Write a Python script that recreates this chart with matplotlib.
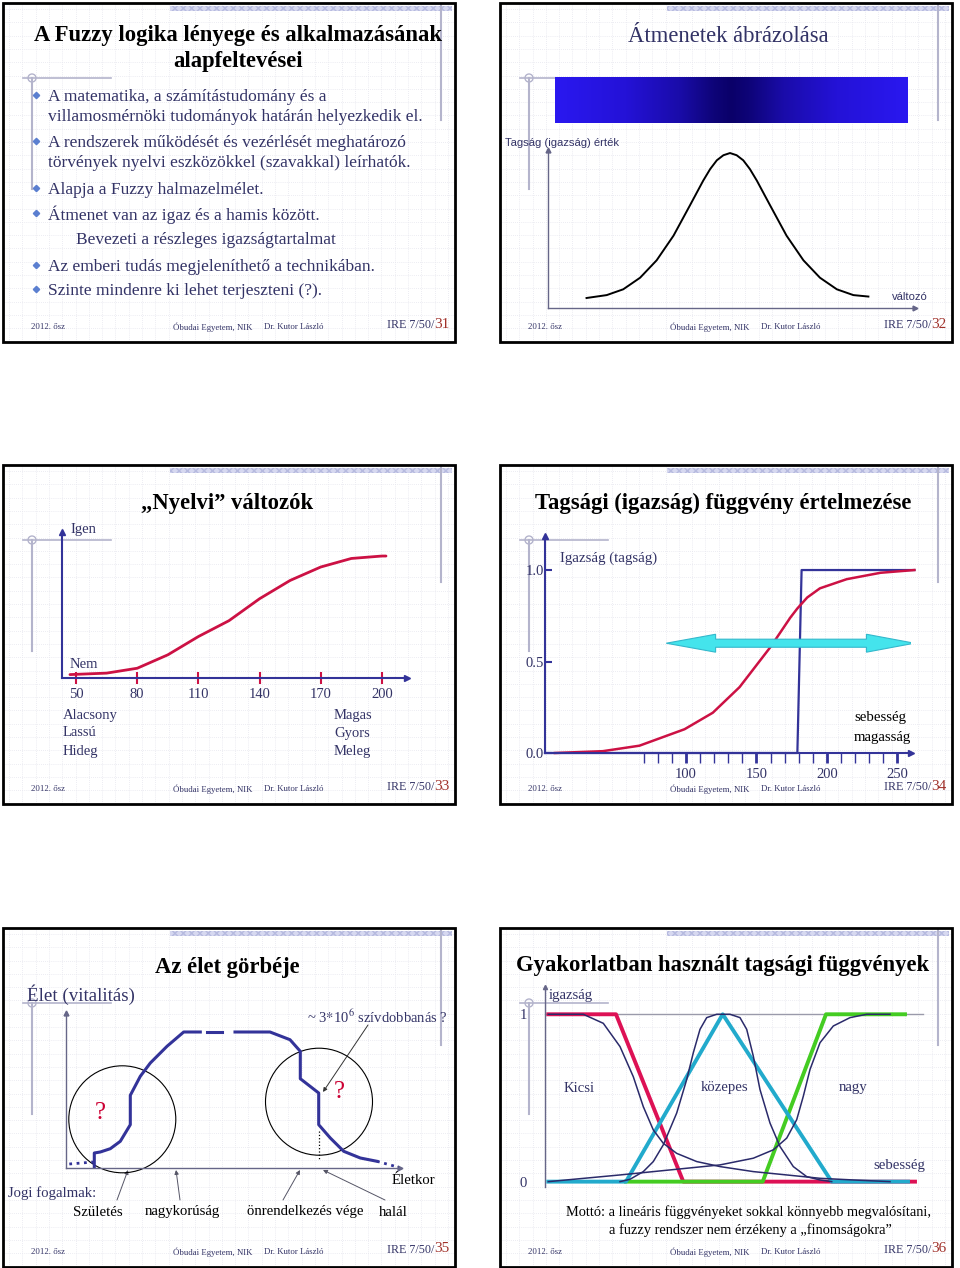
import numpy as np
import matplotlib.pyplot as plt
import matplotlib.patches as mpatches

plt.rcParams['font.family'] = ['Liberation Serif', 'DejaVu Serif']
plt.rcParams['mathtext.fontset'] = 'stix'

# ---------------- values ----------------
bullet_lines = [
    (97, True, 'A matematika, a számítástudomány és a'),
    (117, False, 'villamosmérnöki tudományok határán helyezkedik el.'),
    (143, True, 'A rendszerek működését és vezérlését meghatározó'),
    (163, False, 'törvények nyelvi eszközökkel (szavakkal) leírhatók.'),
    (190, True, 'Alapja a Fuzzy halmazelmélet.'),
    (215, True, 'Átmenet van az igaz és a hamis között.'),
    (267, True, 'Az emberi tudás megjeleníthető a technikában.'),
    (291, True, 'Szinte mindenre ki lehet terjeszteni (?).'),
]

# slide 32: bell shaped membership
bell_x = [10.5, 16.0, 20.5, 25.1, 29.6, 34.2, 38.7, 42.3, 44.2, 46.0, 47.8, 49.6,
          51.4, 53.2, 55.0, 56.9, 60.5, 65.0, 69.6, 74.1, 78.7, 83.2, 87.3]
bell_y = [0.0, 0.02, 0.06, 0.14, 0.26, 0.43, 0.64, 0.81, 0.89, 0.95, 0.985, 1.0,
          0.985, 0.95, 0.89, 0.81, 0.64, 0.43, 0.26, 0.14, 0.06, 0.02, 0.01]

# slide 33: linguistic variable
ling_x = [47, 50, 65, 80, 95, 110, 125, 140, 155, 170, 185, 200, 202]
ling_y = [0.028, 0.03, 0.04, 0.08, 0.19, 0.34, 0.47, 0.65, 0.80, 0.91, 0.98, 1.0, 1.0]
ling_ticks = [50, 80, 110, 140, 170, 200]
low_words = ['Alacsony', 'Lassú', 'Hideg']
high_words = ['Magas', 'Gyors', 'Meleg']

# slide 34: fuzzy vs crisp membership
fuzzy_x = [7, 41, 67, 99, 119, 138, 148, 160, 167, 174, 179, 186, 195, 214, 238, 262]
fuzzy_y = [0, 0.01, 0.04, 0.13, 0.22, 0.36, 0.46, 0.58, 0.66, 0.74, 0.79, 0.85, 0.90,
           0.95, 0.985, 1.0]
crisp_x = [0, 179, 182, 262]
crisp_y = [0, 0, 1, 1]
arrow_x = [86, 121, 121, 228, 228, 262, 228, 228, 121, 121]
arrow_y = [0.6, 0.649, 0.622, 0.622, 0.649, 0.6, 0.551, 0.578, 0.578, 0.551]

# slide 35: life curve
life_in_x = [3.3, 27.7]
life_in_y = [4, 6]
life_up_x = [28.3, 28.3, 34.3, 44.3, 54.3, 64.3, 64.3, 74.3, 84.3, 101, 117.7, 134.3]
life_up_y = [1, 15, 16, 19.3, 26.7, 43.3, 72.7, 91.7, 105, 121.7, 136, 136]
life_gap_x = [141, 156]
life_gap_y = [136, 136]
life_down_x = [169, 204, 224, 234.3, 234.3, 252.7, 252.7, 264.3, 277.7, 294.3, 311]
life_down_y = [136, 136, 128.3, 116.7, 89.3, 75, 43.3, 30, 16.7, 10, 6.7]
life_out_x = [311, 332.7]
life_out_y = [6.7, 0.7]
circle_x = [56.3, 253]
circle_y = [48.7, 66.3]
legal_terms = [('Születés', 98, 117, 128), ('nagykorúság', 182, 180, 176),
               ('önrendelkezés vége', 305, 283, 300), ('halál', 393, 385, 323)]

# slide 36: membership functions used in practice
small_x = [3.3, 38.3, 58.3, 75, 88.3, 98.3, 108.3, 118.3, 131.7, 151.7, 175, 208.3,
           241.7, 275, 308.3, 345]
small_y = [1.0, 1.0, 0.946, 0.807, 0.627, 0.448, 0.309, 0.229, 0.169, 0.120, 0.090,
           0.060, 0.040, 0.020, 0.010, 0.0]
medium_x = [75, 85, 98.3, 108.3, 118.3, 131.7, 141.7, 148.3, 155, 161.7, 171.7, 185,
            195, 201.7, 208.3, 215, 225, 235, 248.3, 261.7, 275, 286.7]
medium_y = [0, 0.014, 0.06, 0.12, 0.22, 0.41, 0.61, 0.77, 0.91, 0.98, 1.0, 1.0,
            0.98, 0.91, 0.75, 0.55, 0.35, 0.21, 0.09, 0.03, 0.01, 0]
large_x = [3.3, 75, 175, 208.3, 228.3, 241.7, 251.7, 258.3, 265, 275, 288.3, 305,
           321.7, 345]
large_y = [0, 0.04, 0.10, 0.14, 0.19, 0.26, 0.37, 0.51, 0.67, 0.83, 0.93, 0.98, 1.0, 1.0]
lin_small_x = [3.3, 71, 138.3, 370]
lin_small_y = [1, 1, 0, 0]
lin_medium_x = [3.3, 81, 177.7, 286.7, 363]
lin_medium_y = [0, 0, 1, 0, 0]
lin_large_x = [81, 217.7, 281, 360]
lin_large_y = [0, 0, 1, 1]

# ---------------- layout ----------------
W, H = 960, 1268
TXT = '#333366'
NAVY = '#333399'
RED = '#cc1144'
DECO = '#b4b4cc'
SW, SH = 452, 339
slides = [(3, 3, '31'), (500, 3, '32'), (3, 465, '33'),
          (500, 465, '34'), (3, 928, '35'), (500, 928, '36')]

fig = plt.figure(figsize=(W / 100, H / 100), dpi=100)
bg = fig.add_axes([0, 0, 1, 1])
bg.set_xlim(0, W)
bg.set_ylim(H, 0)
bg.axis('off')


def px_axes(x0, y0, x1, y1):
    ax = fig.add_axes([x0 / W, 1 - y1 / H, (x1 - x0) / W, (y1 - y0) / H])
    ax.patch.set_alpha(0)
    for s in ax.spines.values():
        s.set_visible(False)
    ax.set_xticks([])
    ax.set_yticks([])
    return ax


def axis_arrows(ax, color, lw=1.2, ms=5, xarrow=True, yarrow=True):
    ax.spines['left'].set_visible(True)
    ax.spines['left'].set_color(color)
    ax.spines['left'].set_linewidth(lw)
    if yarrow:
        ax.plot([0], [1], marker='^', ms=ms, color=color, transform=ax.transAxes,
                clip_on=False)
    if xarrow:
        ax.spines['bottom'].set_visible(True)
        ax.spines['bottom'].set_color(color)
        ax.spines['bottom'].set_linewidth(lw)
        ax.plot([1], [0], marker='>', ms=ms, color=color, transform=ax.transAxes,
                clip_on=False)


for x0, y0, num in slides:
    bg.add_patch(mpatches.Rectangle((x0, y0), SW, SH, facecolor='white',
                                    edgecolor='none', zorder=0))
    for gx in np.arange(x0 + 6, x0 + SW, 13.3):
        bg.plot([gx, gx], [y0, y0 + SH], color='#e6e6ee', lw=0.6, ls=(0, (1, 1.5)), zorder=0.1)
    for gy in np.arange(y0 + 6, y0 + SH, 13.3):
        bg.plot([x0, x0 + SW], [gy, gy], color='#e6e6ee', lw=0.6, ls=(0, (1, 1.5)), zorder=0.1)
    bg.add_patch(mpatches.Rectangle((x0 + 167, y0 + 3), SW - 170, 5, facecolor='#d6d8f0',
                                    edgecolor='#b6badf', hatch='xxxx', lw=0, zorder=0.5))
    # crosshair ornament
    cx, cy = x0 + 29, y0 + 75
    bg.plot([x0 + 20, x0 + 108], [cy, cy], color=DECO, lw=1.2, zorder=0.6)
    bg.plot([cx, cx], [cy, y0 + 186], color=DECO, lw=1.5, zorder=0.6)
    bg.add_patch(mpatches.Circle((cx, cy), 4, facecolor='none', edgecolor=DECO, lw=1, zorder=0.6))
    bg.plot([x0 + 438, x0 + 438], [y0 + 2, y0 + 117], color=DECO, lw=1.5, zorder=0.6)
    bg.add_patch(mpatches.Rectangle((x0, y0), SW, SH, facecolor='none',
                                    edgecolor='black', lw=2, zorder=5))
    # footer
    bg.text(x0 + 28, y0 + 324, '2012. ősz', size=6.3, color=TXT, va='center')
    bg.text(x0 + 170, y0 + 324, 'Óbudai Egyetem, NIK', size=6.3, color=TXT, va='center')
    bg.text(x0 + 261, y0 + 324, 'Dr. Kutor László', size=6.3, color=TXT, va='center')
    bg.text(x0 + 431, y0 + 322, 'IRE 7/50/', size=8.7, color=TXT, va='center', ha='right')
    bg.text(x0 + 431, y0 + 321, num, size=11, color='#a0302a', va='center', ha='left')

# ---------------- slide 31 ----------------
bg.text(238, 35, 'A Fuzzy logika lényege és alkalmazásának', size=16.3, weight='bold',
        ha='center', va='center')
bg.text(238, 62, 'alapfeltevései', size=16.3, weight='bold', ha='center', va='center')
for y, has_bullet, line in bullet_lines:
    if has_bullet:
        bg.plot([36], [y - 2], marker='D', ms=3.2, color='#5b7fd0')
    bg.text(48, y, line, size=12.5, color=TXT, va='center')
bg.text(76, 240, 'Bevezeti a részleges igazságtartalmat', size=12.5, color=TXT, va='center')

# ---------------- slide 32 ----------------
bg.text(728, 37, 'Átmenetek ábrázolása', size=16.3, color=TXT, ha='center', va='center')
grad_pos = [0, 0.2, 0.35, 0.45, 0.5, 0.55, 0.65, 0.8, 1]
grad_r = [42, 36, 26, 14, 10, 14, 26, 36, 42]
grad_g = [24, 18, 12, 4, 0, 4, 12, 18, 24]
grad_b = [240, 215, 170, 120, 105, 120, 170, 215, 240]
t = np.linspace(0, 1, 300)
grad = np.stack([np.interp(t, grad_pos, grad_r), np.interp(t, grad_pos, grad_g),
                 np.interp(t, grad_pos, grad_b)], axis=-1)[None, :, :] / 255
bg.imshow(grad, extent=(555, 908, 123, 77), aspect='auto', zorder=1)
bg.set_xlim(0, W)
bg.set_ylim(H, 0)
bg.text(505, 143, 'Tagság (igazság) érték', family=['Liberation Sans', 'DejaVu Sans'],
        size=8.1, color=TXT, va='center')
bg.text(892, 297, 'változó', family=['Liberation Sans', 'DejaVu Sans'], size=8.1,
        color=TXT, va='center')
ax2 = px_axes(548, 150, 915, 308)
ax2.set_xlim(0, 100)
ax2.set_ylim(-0.069, 1.021)
axis_arrows(ax2, '#666688', lw=1, ms=3.5)
ax2.plot(bell_x, bell_y, color='black', lw=1.4)

# ---------------- slide 33 ----------------
bg.text(227, 503, '„Nyelvi” változók', size=16.3, weight='bold', ha='center', va='center')
bg.text(70, 530, 'Igen', size=10.5, color=TXT, va='center')
bg.text(70, 665, 'Nem', size=10.5, color=TXT, va='center')
for i, w in enumerate(low_words):
    bg.text(63, 715 + 18 * i, w, size=10.5, color=TXT, va='center')
for i, w in enumerate(high_words):
    bg.text(334, 715 + 18 * i, w, size=10.5, color=TXT, va='center')
ax3 = px_axes(62, 532, 407, 678)
ax3.set_xlim(43.1, 212.3)
ax3.set_ylim(0, 1.197)
axis_arrows(ax3, NAVY, lw=1.5, ms=4.5)
ax3.set_xticks(ling_ticks)
ax3.set_xticklabels([str(v) for v in ling_ticks])
ax3.tick_params(axis='x', direction='inout', length=8, width=1.5, color=RED,
                labelsize=10.5, labelcolor=TXT, pad=3)
ax3.plot(ling_x, ling_y, color=RED, lw=2, solid_capstyle='round')

# ---------------- slide 34 ----------------
bg.text(723, 503, 'Tagsági (igazság) függvény értelmezése', size=16.3, weight='bold',
        ha='center', va='center')
bg.text(560, 558, 'Igazság (tagság)', size=10.8, color=TXT, va='center')
bg.text(880, 718, 'sebesség', size=10.7, ha='center', va='center')
bg.text(882, 737, 'magasság', size=10.7, ha='center', va='center')
ax4 = px_axes(545, 536, 911, 753)
ax4.set_xlim(0, 259.6)
ax4.set_ylim(0, 1.186)
axis_arrows(ax4, NAVY, lw=1.5, ms=4.5)
ax4.set_yticks([0, 0.5, 1.0])
ax4.set_yticklabels(['0.0', '0.5', '1.0'])
ax4.tick_params(axis='y', direction='in', length=5, width=1.5, color=NAVY,
                labelsize=10.5, labelcolor=TXT, pad=1)
ax4.set_xticks([100, 150, 200, 250])
ax4.set_xticks(np.arange(70, 251, 10), minor=True)
ax4.tick_params(axis='x', which='major', direction='out', length=7, width=2, color=NAVY,
                labelsize=10.5, labelcolor=TXT, pad=4)
ax4.tick_params(axis='x', which='minor', direction='out', length=7, width=1, color=NAVY)
ax4.plot(crisp_x, crisp_y, color=NAVY, lw=1.6, clip_on=False)
ax4.plot(fuzzy_x, fuzzy_y, color=RED, lw=1.8, clip_on=False)
ax4.fill(arrow_x, arrow_y, facecolor='#44e4ec', edgecolor='#33b8cc', lw=0.8, zorder=4)

# ---------------- slide 35 ----------------
bg.text(227, 967, 'Az élet görbéje', size=16.3, weight='bold', ha='center', va='center')
bg.text(27, 995, 'Élet (vitalitás)', size=13.7, color=TXT, va='center')
bg.text(307, 1017, r'~ 3$*$10$^{6}$ szívdobbanás ?', size=10.5, color=TXT, va='center')
bg.text(392, 1180, 'Életkor', size=10.6, va='center')
bg.text(8, 1193, 'Jogi fogalmak:', size=10.6, color=TXT, va='center')
for name, tx, ax_from, ax_to in legal_terms:
    bg.text(tx, 1212, name, size=10.6, ha='center', va='center')
    bg.annotate('', xy=(ax_to, 1170), xytext=(ax_from, 1200),
                arrowprops=dict(arrowstyle='-|>', color='#555566', lw=0.7,
                                mutation_scale=6, shrinkA=0, shrinkB=0))
ax5 = px_axes(66, 1013, 400, 1168)
ax5.set_xlim(0, 334)
ax5.set_ylim(0, 155)
axis_arrows(ax5, '#666688', lw=1, ms=3.5)
ax5.plot(life_in_x, life_in_y, color=NAVY, lw=2, ls=':')
ax5.plot(life_up_x, life_up_y, color=NAVY, lw=2.2, solid_joinstyle='round')
ax5.plot(life_gap_x, life_gap_y, color=NAVY, lw=2.2)
ax5.plot(life_down_x, life_down_y, color=NAVY, lw=2.2, solid_joinstyle='round')
ax5.plot(life_out_x, life_out_y, color=NAVY, lw=2, ls=':')
ax5.annotate('', xy=(life_out_x[1] + 2, life_out_y[1]), xytext=(life_out_x[1] - 3, life_out_y[1] + 1),
             arrowprops=dict(arrowstyle='-|>', color=NAVY, lw=1, mutation_scale=7))
for cxd, cyd in zip(circle_x, circle_y):
    ax5.add_patch(mpatches.Circle((cxd, cyd), 53.5, facecolor='none', edgecolor='black',
                                  lw=0.8, clip_on=False))
ax5.plot([circle_x[1], circle_x[1]], [36.7, 8.3], color='black', lw=0.9, ls=':')
ax5.text(34.3, 55, '?', size=18, color='#cc0033', ha='center', va='center')
ax5.text(273, 76, '?', size=18, color='#cc0033', ha='center', va='center')
ax5.annotate('', xy=(257, 76), xytext=(302, 143),
             arrowprops=dict(arrowstyle='-|>', color='#333333', lw=0.7,
                             mutation_scale=6, shrinkA=0, shrinkB=0))

# ---------------- slide 36 ----------------
bg.text(723, 965, 'Gyakorlatban használt tagsági függvények', size=16.3, weight='bold',
        ha='center', va='center')
bg.text(549, 995, 'igazság', size=10.6, color=TXT, va='center')
bg.text(579, 1088, 'Kicsi', size=10.6, color=TXT, ha='center', va='center')
bg.text(725, 1088, 'közepes', size=10.6, color=TXT, ha='center', va='center')
bg.text(853, 1088, 'nagy', size=10.6, color=TXT, ha='center', va='center')
bg.text(899, 1166, 'sebesség', size=10.6, color=TXT, ha='center', va='center')
bg.text(748, 1212, 'Mottó: a lineáris függvényeket sokkal könnyebb megvalósítani,',
        size=10.4, ha='center', va='center')
bg.text(750, 1230, 'a fuzzy rendszer nem érzékeny a „finomságokra”', size=10.4,
        ha='center', va='center')
ax6 = px_axes(545, 987, 925, 1187)
ax6.set_xlim(0, 380)
ax6.set_ylim(-0.032, 1.163)
axis_arrows(ax6, '#666688', lw=1, ms=3, xarrow=False)
ax6.set_yticks([0, 1])
ax6.set_yticklabels(['0', '1'])
ax6.tick_params(axis='y', length=0, labelsize=10.6, labelcolor=TXT, pad=13)
ax6.plot([0, 378], [1, 1], color='#9a9aaa', lw=1)
ax6.plot(lin_small_x, lin_small_y, color='#dd1155', lw=2.8, zorder=2)
ax6.plot(lin_large_x, lin_large_y, color='#44cc22', lw=2.8, zorder=3)
ax6.plot(lin_medium_x, lin_medium_y, color='#22aacc', lw=2.8, zorder=4)
for xs, ys in [(small_x, small_y), (medium_x, medium_y), (large_x, large_y)]:
    ax6.plot(xs, ys, color='#2a2a6a', lw=1.1, zorder=5)

fig.savefig('out.png', dpi=100)
